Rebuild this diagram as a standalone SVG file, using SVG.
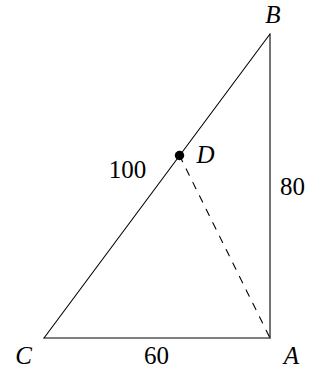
<svg xmlns="http://www.w3.org/2000/svg" width="321" height="374" viewBox="0 0 321 374">
<style>
.l{stroke:#000;stroke-width:1.1;fill:none;stroke-linecap:round}
.d{stroke-dasharray:7 8}
text{font-family:'Liberation Serif','Times New Roman',serif;font-size:25px;fill:#000;text-anchor:middle}
.i{font-style:italic}
</style>
<rect width="321" height="374" fill="#fff"/>
<g id="connectors">
<line class="l" x1="44" y1="338" x2="270" y2="338"/>
<line class="l" x1="270" y1="338" x2="270" y2="34"/>
<line class="l" x1="270" y1="34" x2="44" y2="338"/>
<line class="l d" x1="179.5" y1="155.5" x2="270" y2="338"/>
</g>
<g id="C"><text class="i" x="23.5" y="364">C</text></g>
<g id="A"><text class="i" x="291.5" y="364">A</text></g>
<g id="B"><text class="i" x="273" y="23">B</text></g>
<g id="D"><circle cx="179.5" cy="155.5" r="4.7" fill="#000"/><text class="i" x="205.5" y="163">D</text></g>
<g id="labels">
<text x="127.5" y="178">100</text>
<text x="292.5" y="195">80</text>
<text x="156.5" y="364">60</text>
</g>
</svg>
